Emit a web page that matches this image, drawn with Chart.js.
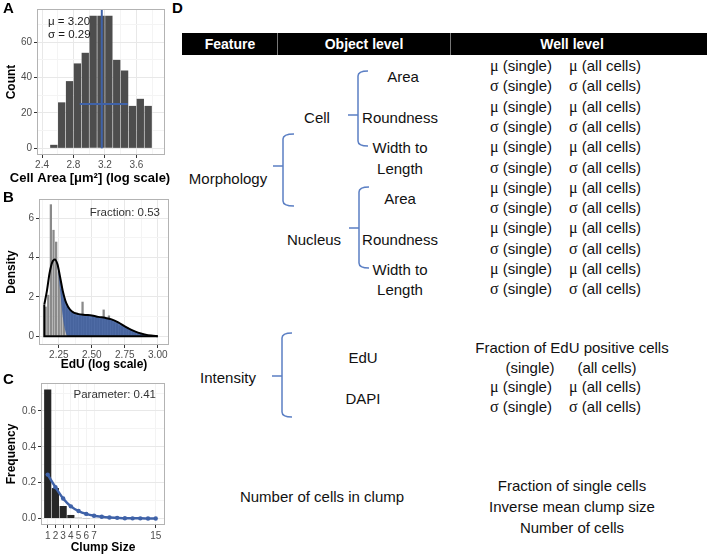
<!DOCTYPE html>
<html>
<head>
<meta charset="utf-8">
<script src="https://cdn.jsdelivr.net/npm/chart.js@4.4.1/dist/chart.umd.min.js"></script>
<style>
  body { margin: 0; background: #fff; }
  #page { position: relative; width: 707px; height: 555px; overflow: hidden;
          font-family: "Liberation Sans", Arial, Helvetica, sans-serif; color: #111; }
  #page canvas { position: absolute; left: 0; }
  .lbl { position: absolute; font-weight: bold; font-size: 15px; line-height: 1; color: #000; }
  .t { position: absolute; font-size: 15px; line-height: 1; white-space: nowrap; transform: translate(-50%, -50%); }
  .tl { position: absolute; font-size: 15px; line-height: 1; white-space: nowrap; transform: translate(0, -50%); }
  .g { font-family: "Liberation Serif", "Times New Roman", serif; font-size: 16px; }
  .hdr { position: absolute; left: 182px; top: 33px; width: 525px; height: 22px; background: #000; }
  .hdr div { position: absolute; top: 0; height: 22px; line-height: 22px; color: #fff; font-weight: bold;
             font-size: 14px; transform: translateX(-50%); white-space: nowrap; }
  .sep { position: absolute; top: 33px; width: 1px; height: 22px; background: #777; }
  svg { position: absolute; left: 0; top: 0; }
</style>
</head>
<body>
<div id="page"></div>
<script>
// ---------- panel A: cell area histogram ----------
const A_BIN_CENTERS = [2.55, 2.65, 2.75, 2.85, 2.95, 3.05, 3.15, 3.25, 3.35, 3.45, 3.55, 3.65, 3.75];
const A_COUNTS = [2, 26, 38, 48, 54, 75, 75, 75, 50, 44, 24, 28, 24];
const A_X_RANGE = [2.336, 3.964];
const A_Y_RANGE = [-3.75, 78.75];
const A_MEAN = 3.16;
const A_SD_SPAN = [2.88, 3.49];
const A_SD_LEVEL = 25;
const A_NOTES = ['\u03bc = 3.20', '\u03c3 = 0.29'];
const A_X_TITLE = 'Cell Area [\u03bcm\u00b2] (log scale)';

// ---------- panel B: EdU histogram + density ----------
const B_BIN_CENTERS = [2.15, 2.17, 2.19, 2.21, 2.23, 2.25, 2.27, 2.29, 2.31, 2.33, 2.35, 2.37, 2.39, 2.41,
  2.43, 2.45, 2.47, 2.49, 2.51, 2.53, 2.55, 2.57, 2.59, 2.61, 2.63, 2.65, 2.67, 2.69, 2.71, 2.73,
  2.75, 2.77, 2.79, 2.81, 2.83, 2.85, 2.87, 2.89, 2.91, 2.93, 2.95, 2.97, 2.99];
const B_HIST = [1.5, 2.1, 6.7, 5.4, 4.8, 3.3, 2.4, 1.9, 1.5, 1.3, 1.2, 1.1, 1.0, 1.1,
  1.75, 1.0, 1.1, 0.9, 1.0, 0.95, 1.0, 0.9, 1.35, 0.9, 1.05, 0.8, 0.7, 0.65, 0.55, 0.5,
  0.45, 0.45, 0.3, 0.25, 0.2, 0.15, 0.1, 0.08, 0.05, 0.03, 0.02, 0.01, 0.0];
const B_DENS_X = [2.14, 2.16, 2.18, 2.20, 2.22, 2.24, 2.26, 2.28, 2.30, 2.32, 2.35, 2.40, 2.45,
  2.50, 2.55, 2.60, 2.65, 2.70, 2.75, 2.80, 2.85, 2.90, 2.95, 3.00];
const B_DENS_TOTAL = [1.6, 2.3, 3.2, 3.75, 3.9, 3.65, 3.0, 2.3, 1.8, 1.5, 1.25, 1.12, 1.08,
  1.05, 0.98, 0.93, 0.85, 0.7, 0.5, 0.32, 0.18, 0.09, 0.03, 0.0];
const B_DENS_NEG = [1.6, 2.3, 3.2, 3.75, 3.9, 3.5, 2.3, 1.0, 0.25, 0, 0, 0, 0,
  0, 0, 0, 0, 0, 0, 0, 0, 0, 0, 0];
const B_X_RANGE = [2.10, 3.085];
const B_Y_RANGE = [-0.45, 6.97];
const B_NOTES = ['Fraction: 0.53'];

// ---------- panel C: clump size ----------
const C_SIZES = [1, 2, 3, 4, 5, 6, 7];
const C_FREQ = [0.72, 0.17, 0.07, 0.02, 0.004, 0.002, 0.0];
const C_FIT_X = [1, 2, 3, 4, 5, 6, 7, 8, 9, 10, 11, 12, 13, 14, 15];
const C_FIT = [0.245, 0.175, 0.112, 0.068, 0.042, 0.026, 0.016, 0.010, 0.006, 0.004, 0.002, 0.001, 0.001, 0.0005, 0.0];
const C_TICKS = [1, 2, 3, 4, 5, 6, 7, 15];
const C_X_RANGE = [0.13, 16.2];
const C_Y_RANGE = [-0.036, 0.756];
const C_NOTES = ['Parameter: 0.41'];

// ---------- panel D: feature table ----------
const D_HEADER = ['Feature', 'Object level', 'Well level'];
const D_OBJECTS = ['Cell', 'Nucleus'];
const D_SHAPE = ['Area', 'Roundness', ['Width to', 'Length']];
const D_CHANNELS = ['EdU', 'DAPI'];
const D_STATS = ['\u03bc', '\u03c3'];
const D_POPS = ['(single)', '(all cells)'];
const D_CLUMP_OUT = ['Fraction of single cells', 'Inverse mean clump size', 'Number of cells'];

Chart.defaults.font.family = '"Liberation Sans", Arial, Helvetica, sans-serif';
Chart.defaults.color = '#4d4d4d';
const BLUE = '#3f62a8';
const page = document.getElementById('page');

// panel frame, in-panel annotation text and (optionally) a free x title
const frameAndNotes = {
  id: 'frameAndNotes',
  afterDatasetsDraw(chart, args, opts) {
    const {ctx, chartArea: a} = chart;
    ctx.save();
    ctx.strokeStyle = '#b3b3b3';
    ctx.lineWidth = 1;
    ctx.strokeRect(Math.round(a.left) + 0.5, Math.round(a.top) + 0.5,
      Math.round(a.right - a.left) - 1, Math.round(a.bottom - a.top) - 1);
    ctx.font = '11.5px "Liberation Sans", Arial, sans-serif';
    ctx.fillStyle = opts.color || '#222';
    ctx.textBaseline = 'middle';
    ctx.textAlign = opts.align;
    const x = opts.align === 'right' ? a.right - opts.dx : a.left + opts.dx;
    (opts.lines || []).forEach((s, i) => ctx.fillText(s, x, a.top + opts.dy + i * (opts.gap || 0)));
    if (opts.xTitle) {
      ctx.font = 'bold 13px "Liberation Sans", Arial, sans-serif';
      ctx.fillStyle = '#000';
      ctx.textAlign = 'center';
      ctx.fillText(opts.xTitle.text, opts.xTitle.x, opts.xTitle.y);
    }
    ctx.restore();
  }
};

function makeScale(o) {
  const major = o.isMajor || (() => true);
  const s = {
    type: 'linear',
    min: o.range[0], max: o.range[1], offset: false,
    afterFit(scale) {
      if (scale.isHorizontal()) scale.height = o.size; else scale.width = o.size;
    },
    ticks: {
      stepSize: o.step, includeBounds: false, autoSkip: false, maxRotation: 0, minRotation: 0,
      padding: o.tickPad, color: '#4d4d4d', font: {size: 10},
      callback: (v) => major(v) ? o.fmt(v) : ''
    },
    grid: {
      offset: false, drawTicks: true, tickLength: 3, lineWidth: 1,
      color: (c) => (c.tick && major(c.tick.value)) ? (o.gridMajor || '#e8e8e8') : '#f4f4f4',
      tickColor: (c) => (c.tick && major(c.tick.value)) ? '#333' : 'rgba(0,0,0,0)'
    },
    border: {display: false},
    title: {display: !!o.title, text: o.title || '', color: '#000', font: {size: 12, weight: 'bold'},
            padding: o.titlePad}
  };
  if (o.fixed) {
    s.afterBuildTicks = (scale) => { scale.ticks = o.fixed.map(v => ({value: v})); };
  }
  return s;
}

function addCanvas(top, w, h) {
  const c = document.createElement('canvas');
  c.width = w; c.height = h;
  c.style.top = top + 'px';
  c.style.width = w + 'px'; c.style.height = h + 'px';
  page.appendChild(c);
  return c;
}

function baseOptions(pad, notes, xs, ys) {
  return {
    responsive: false, animation: false, devicePixelRatio: 1,
    layout: {padding: pad},
    plugins: {legend: {display: false}, tooltip: {enabled: false}, frameAndNotes: notes},
    scales: {x: xs, y: ys}
  };
}

// ---- A ----
new Chart(addCanvas(0, 172, 186), {
  type: 'bar',
  data: {
    datasets: [
      {type: 'line', data: [{x: A_MEAN, y: 0}, {x: A_MEAN, y: A_Y_RANGE[1]}],
       borderColor: BLUE, borderWidth: 2, pointRadius: 0, order: 0},
      {type: 'line', data: A_SD_SPAN.map(x => ({x, y: A_SD_LEVEL})),
       borderColor: BLUE, borderWidth: 2, pointRadius: 0, order: 0},
      {type: 'bar', data: A_BIN_CENTERS.map((x, i) => ({x, y: A_COUNTS[i]})),
       backgroundColor: '#4d4d4d', barPercentage: 0.93, categoryPercentage: 1, order: 1}
    ]
  },
  options: baseOptions({top: 9, right: 7, left: 0, bottom: 0},
    {lines: A_NOTES, align: 'left', dx: 11, dy: 12.5, gap: 13.5, color: '#1a1a1a',
     xTitle: {text: A_X_TITLE, x: 90, y: 178.5}},
    makeScale({range: A_X_RANGE, step: 0.2, size: 31, tickPad: 1,
      isMajor: v => Math.round(v * 10) % 4 === 0, fmt: v => v.toFixed(1)}),
    makeScale({range: A_Y_RANGE, step: 10, size: 37, tickPad: 2, title: 'Count',
      titlePad: {top: 4.5, bottom: 0}, isMajor: v => Math.round(v) % 20 === 0, fmt: v => String(Math.round(v))})),
  plugins: [frameAndNotes]
});

// ---- B ----
new Chart(addCanvas(186, 172, 186), {
  type: 'bar',
  data: {
    datasets: [
      {type: 'bar', data: B_BIN_CENTERS.map((x, i) => ({x, y: B_HIST[i]})),
       backgroundColor: '#8a8a8a', barPercentage: 0.86, categoryPercentage: 1, order: 3},
      {type: 'line', data: B_DENS_X.map((x, i) => ({x, y: B_DENS_NEG[i]})),
       borderWidth: 0, borderColor: 'rgba(0,0,0,0)', pointRadius: 0, fill: false,
       cubicInterpolationMode: 'monotone', order: 2},
      {type: 'line', data: B_DENS_X.map((x, i) => ({x, y: B_DENS_TOTAL[i]})),
       borderColor: '#000', borderWidth: 2, pointRadius: 0, fill: 1,
       backgroundColor: 'rgba(60, 94, 162, 0.86)', cubicInterpolationMode: 'monotone', order: 1},
      {type: 'line', data: [{x: B_DENS_X[0], y: B_DENS_TOTAL[0]}, {x: B_DENS_X[0], y: 0},
        {x: B_DENS_X[B_DENS_X.length - 1], y: 0}],
       borderColor: '#000', borderWidth: 2, pointRadius: 0, fill: false, order: 0}
    ]
  },
  options: baseOptions({top: 13, right: 3, left: 0, bottom: 0},
    {lines: B_NOTES, align: 'right', dx: 9, dy: 14, color: '#333'},
    makeScale({range: B_X_RANGE, step: 0.125, size: 27, tickPad: 1, title: 'EdU (log scale)',
      titlePad: {top: 0, bottom: 0}, isMajor: v => Math.round(v * 8) % 2 === 0, fmt: v => v.toFixed(2)}),
    makeScale({range: B_Y_RANGE, step: 1, size: 39, tickPad: 2, title: 'Density',
      titlePad: {top: 4.5, bottom: 0}, isMajor: v => Math.round(v) % 2 === 0, fmt: v => String(Math.round(v))})),
  plugins: [frameAndNotes]
});

// ---- C ----
new Chart(addCanvas(372, 170, 183), {
  type: 'bar',
  data: {
    datasets: [
      {type: 'line', data: C_FIT_X.map((x, i) => ({x, y: C_FIT[i]})),
       borderColor: BLUE, borderWidth: 2.5, pointRadius: 2.2, pointBackgroundColor: BLUE,
       pointBorderWidth: 0, cubicInterpolationMode: 'monotone', order: 0},
      {type: 'bar', data: C_SIZES.map((x, i) => ({x, y: C_FREQ[i]})),
       backgroundColor: '#262626', barPercentage: 0.93, categoryPercentage: 1, order: 1}
    ]
  },
  options: baseOptions({top: 11, right: 5, left: 0, bottom: 0},
    {lines: C_NOTES, align: 'right', dx: 9, dy: 12, color: '#333'},
    makeScale({range: C_X_RANGE, fixed: C_TICKS, size: 30, tickPad: 2, title: 'Clump Size',
      gridMajor: '#f3f3f3', titlePad: {top: 0, bottom: 0.5}, fmt: v => String(v)}),
    makeScale({range: C_Y_RANGE, step: 0.1, size: 41, tickPad: 2, title: 'Frequency',
      titlePad: {top: 4.5, bottom: 0}, isMajor: v => Math.round(v * 10) % 2 === 0, fmt: v => v.toFixed(1)})),
  plugins: [frameAndNotes]
});

// ---- panel letters ----
[['A', 3, 0], ['B', 3, 189], ['C', 3, 371], ['D', 172, 0]].forEach(([s, x, y]) => {
  const d = document.createElement('div');
  d.className = 'lbl'; d.textContent = s;
  d.style.left = x + 'px'; d.style.top = y + 'px';
  page.appendChild(d);
});

// ---- D ----
function put(html, x, y, cls) {
  const d = document.createElement('div');
  d.className = cls || 't';
  d.innerHTML = html;
  d.style.left = x + 'px'; d.style.top = y + 'px';
  page.appendChild(d);
}

const hdr = document.createElement('div');
hdr.className = 'hdr';
page.appendChild(hdr);
[230, 364, 572].forEach((cx, i) => {
  const d = document.createElement('div');
  d.textContent = D_HEADER[i];
  d.style.left = (cx - 182) + 'px';
  hdr.appendChild(d);
});
[277, 450].forEach(x => {
  const s = document.createElement('div');
  s.className = 'sep'; s.style.left = x + 'px';
  page.appendChild(s);
});

const rowY = [66, 86.3, 106.6, 126.9, 147.2, 167.5, 187.8, 208.1, 228.4, 248.7, 269, 289.3];
rowY.forEach((y, i) => {
  const st = '<span class="g">' + D_STATS[i % 2] + '</span> ';
  put(st + D_POPS[0], 490, y, 'tl');
  put(st + D_POPS[1], 569, y, 'tl');
});

D_OBJECTS.forEach((obj, o) => {
  const base = o * 6;
  put(obj, o === 0 ? 317 : 314, (rowY[base + 2] + rowY[base + 3]) / 2);
  D_SHAPE.forEach((f, k) => {
    const r = base + k * 2;
    if (Array.isArray(f)) {
      put(f[0], 400, rowY[r]);
      put(f[1], 400, rowY[r + 1]);
    } else {
      put(f, k === 0 && o === 0 ? 403 : 400, (rowY[r] + rowY[r + 1]) / 2);
    }
  });
});
put('Morphology', 228, 178);

put('Intensity', 228, 377);
put(D_CHANNELS[0], 363, 357);
put(D_CHANNELS[1], 363, 398);
put('Fraction of EdU positive cells', 572, 347);
put(D_POPS[0], 530, 367);
put(D_POPS[1], 607, 367);
D_STATS.forEach((s, i) => {
  const st = '<span class="g">' + s + '</span> ';
  put(st + D_POPS[0], 490, 387 + i * 20, 'tl');
  put(st + D_POPS[1], 569, 387 + i * 20, 'tl');
});

put('Number of cells in clump', 322, 496);
D_CLUMP_OUT.forEach((s, i) => put(s, 572, 485 + i * 21));

// curly brackets
function brace(x, top, point, bottom, hook, stub) {
  return `M${x + hook},${top} Q${x},${top} ${x},${top + 5} L${x},${bottom - 5} Q${x},${bottom} ${x + hook},${bottom} ` +
         `M${x},${point} L${x - stub},${point}`;
}
const svgNS = 'http://www.w3.org/2000/svg';
const svg = document.createElementNS(svgNS, 'svg');
svg.setAttribute('width', 707); svg.setAttribute('height', 555);
[
  brace(358, 71, 115, 146, 10, 10),
  brace(283, 134, 166, 206, 11, 10),
  brace(359, 187, 228, 268, 10, 10),
  brace(282, 333, 376, 417, 10, 10)
].forEach(d => {
  const p = document.createElementNS(svgNS, 'path');
  p.setAttribute('d', d);
  p.setAttribute('fill', 'none');
  p.setAttribute('stroke', '#5b7fc4');
  p.setAttribute('stroke-width', '1.5');
  svg.appendChild(p);
});
page.appendChild(svg);
</script>
</body>
</html>
